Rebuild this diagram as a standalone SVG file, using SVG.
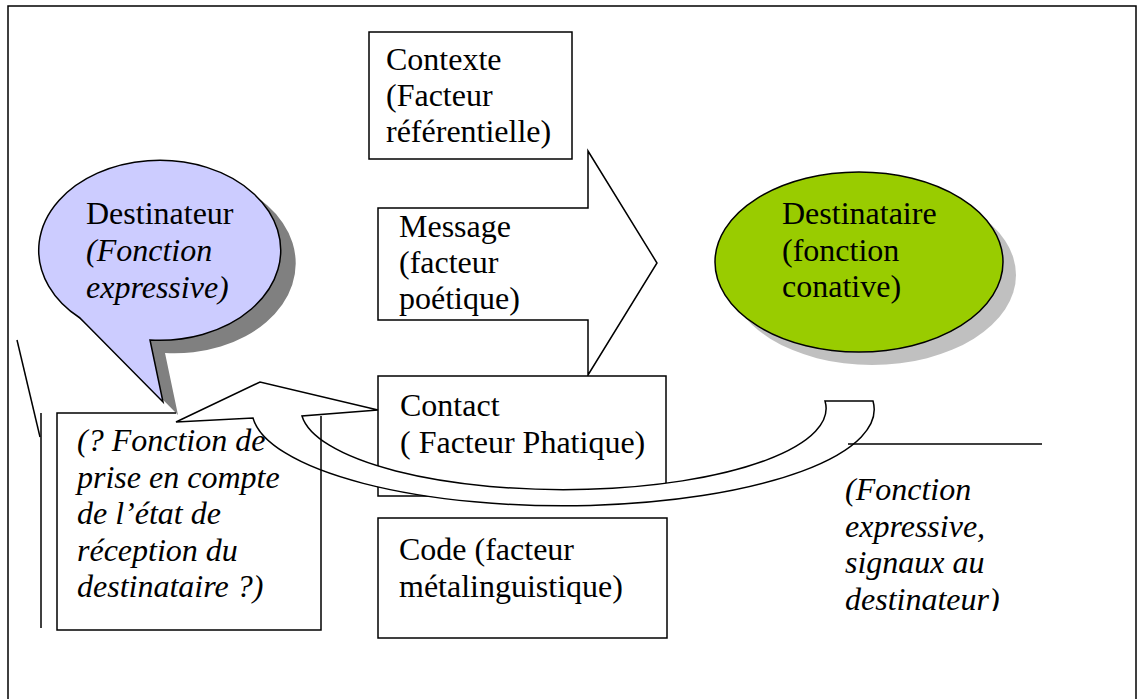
<svg xmlns="http://www.w3.org/2000/svg" width="1137" height="699" viewBox="0 0 1137 699">
<style>
.bx{fill:#fff;stroke:#000;stroke-width:1.5}
.ln{fill:none;stroke:#000;stroke-width:1.5}
.t{font-family:'Liberation Serif','Times New Roman',serif;font-size:32px;fill:#000}
.i{font-style:italic}
</style>
<defs>
<clipPath id="clipR"><rect x="800" y="440" width="300" height="171"/></clipPath>
</defs>
<rect x="8" y="6" width="1128" height="720" class="ln"/>

<g id="contexte">
<rect x="369" y="32" width="203" height="127" class="bx"/>
<text class="t"><tspan x="386" y="70">Contexte</tspan><tspan x="386" y="106">(Facteur</tspan><tspan x="386" y="142">référentielle)</tspan></text>
</g>

<g id="message">
<path d="M378,208 H588 V151 L657,263 L588,375 V320 H378 Z" class="bx"/>
<text class="t"><tspan x="399" y="237">Message</tspan><tspan x="399" y="273">(facteur</tspan><tspan x="399" y="309">poétique)</tspan></text>
</g>

<g id="destinataire">
<ellipse cx="872" cy="275" rx="144" ry="90" fill="#c0c0c0"/>
<ellipse cx="859" cy="262" rx="144" ry="90" fill="#99cc00" stroke="#000" stroke-width="1.5"/>
<text class="t"><tspan x="782" y="224">Destinataire</tspan><tspan x="782" y="261">(fonction</tspan><tspan x="782" y="297">conative)</tspan></text>
</g>

<g id="contact">
<rect x="378" y="376" width="288" height="120" class="bx"/>
<text class="t"><tspan x="400" y="416">Contact</tspan><tspan x="400" y="453">( Facteur Phatique)</tspan></text>
</g>

<g id="code">
<rect x="378" y="518" width="289" height="120" class="bx"/>
<text class="t"><tspan x="399" y="560">Code (facteur</tspan><tspan x="399" y="597">métalinguistique)</tspan></text>
</g>

<g id="destinateur">
<path d="M80,318 L163,402 L150,340 A121,90 0 1 0 80,318 Z" transform="translate(15,13)" fill="#808080"/>
<path d="M80,318 L163,402 L150,340 A121,90 0 1 0 80,318 Z" fill="#ccccff" stroke="#000" stroke-width="1.5"/>
<text class="t"><tspan x="86" y="224">Destinateur</tspan><tspan x="86" y="261" class="i">(Fonction</tspan><tspan x="86" y="298" class="i">expressive)</tspan></text>
</g>

<g id="connectors">
<path d="M176,422 L260,382 L378,410 L302,416 A262,81 0 0 0 825,401 L873,401 A310,96 0 0 1 253,418 Z" class="bx"/>
<line x1="848" y1="444" x2="1042" y2="444" class="ln"/>
<line x1="41" y1="413" x2="41" y2="628" class="ln"/>
<line x1="17" y1="340" x2="40" y2="437" class="ln"/>
</g>

<g id="reception">
<path d="M176,413 H57 V630 H321 V416" class="ln"/>
<text class="t i"><tspan x="77" y="451">(? Fonction de</tspan><tspan x="77" y="488">prise en compte</tspan><tspan x="77" y="524">de l’état de</tspan><tspan x="77" y="561">réception du</tspan><tspan x="77" y="597">destinataire ?)</tspan></text>
</g>

<g id="signaux">
<text class="t i" clip-path="url(#clipR)"><tspan x="845" y="500">(Fonction</tspan><tspan x="845" y="537">expressive,</tspan><tspan x="845" y="573">signaux au</tspan><tspan x="845" y="610">destinateur)</tspan></text>
</g>
</svg>
